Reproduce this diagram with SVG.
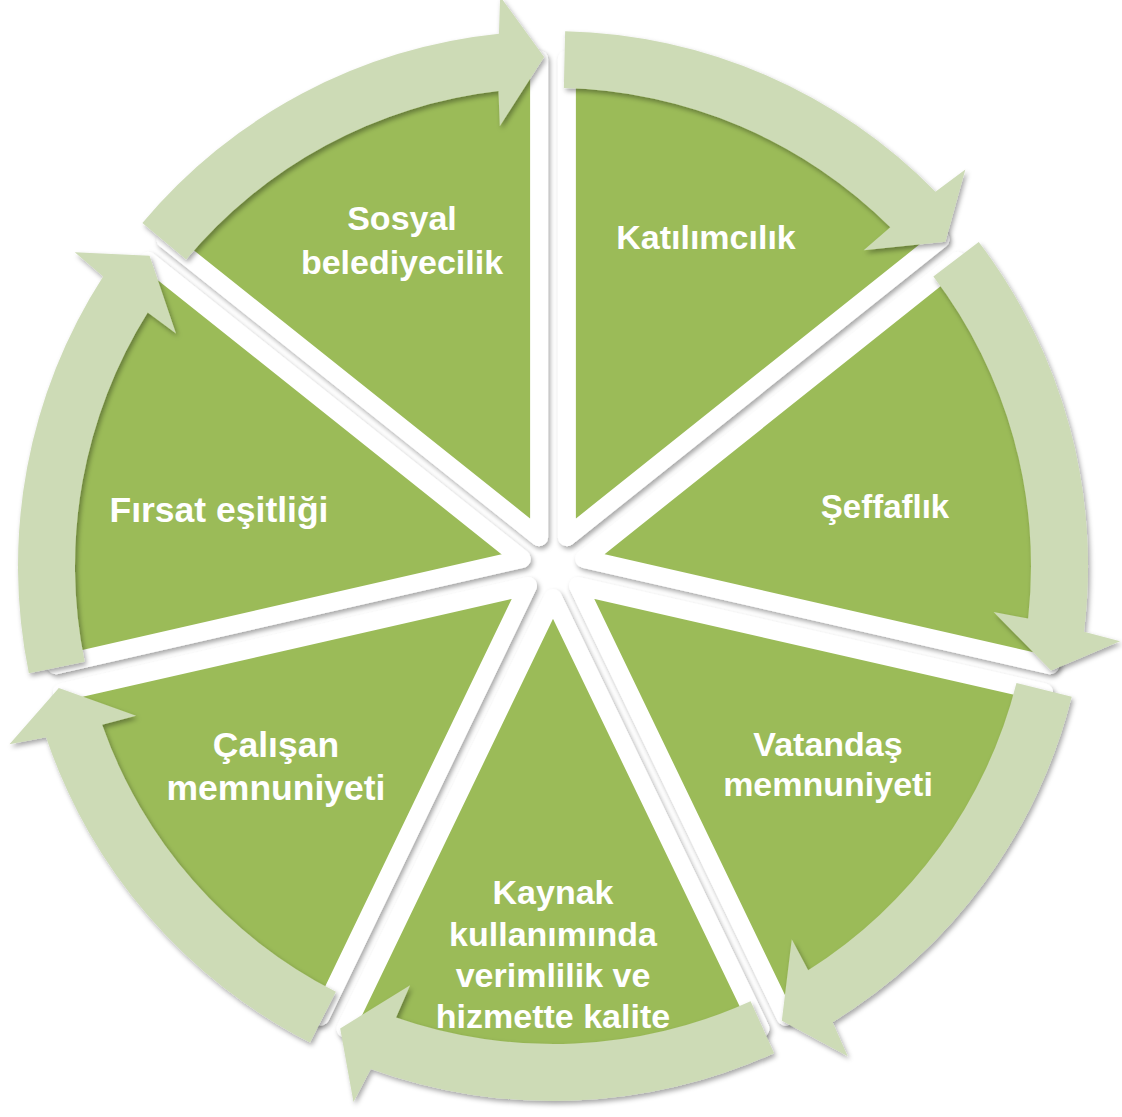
<svg xmlns="http://www.w3.org/2000/svg" xmlns:xlink="http://www.w3.org/1999/xlink" width="1122" height="1117" viewBox="0 0 1122 1117">
<style>
.wedge{fill:#9BBB59;stroke:#FFFFFF;stroke-width:18;stroke-linejoin:round}
.arrow{fill:#CDDBB6;stroke:none}
.lbl{font-family:"Liberation Sans",Arial,sans-serif;font-weight:bold;font-size:34px;fill:#FFFFFF;text-anchor:middle}
.big{font-size:35.5px}
</style>
<defs>
<filter id="sh" x="-10%" y="-10%" width="130%" height="130%">
<feDropShadow dx="2" dy="3" stdDeviation="2.5" flood-color="#000000" flood-opacity="0.35"/>
</filter>
<path id="wedge" d="M 566.88 537.17 L 566.88 59.17 A 478 478 0 0 1 940.59 239.14 Z"/>
<path id="arrow" d="M 565.14 31.14 A 535 535 0 0 1 935.46 191.85 L 965.36 169.58 L 945.36 241.74 L 863.67 250.18 L 890.29 227.29 A 478 478 0 0 0 563.84 88.12 Z"/>
</defs>
<rect width="1122" height="1117" fill="#FFFFFF"/>
<g id="node-katilimcilik">
<g filter="url(#sh)"><use href="#wedge" class="wedge"/></g>
<text class="lbl" x="706" y="249">Katılımcılık</text>
</g>
<g id="node-seffaflik">
<g filter="url(#sh)"><use href="#wedge" class="wedge" transform="rotate(51.428571 553 566)"/></g>
<text class="lbl" x="885" y="518" style="font-size:33px">Şeffaflık</text>
</g>
<g id="node-vatandas">
<g filter="url(#sh)"><use href="#wedge" class="wedge" transform="rotate(102.857143 553 566)"/></g>
<text class="lbl" x="828" y="756">Vatandaş</text>
<text class="lbl" x="828" y="796">memnuniyeti</text>
</g>
<g id="node-kaynak">
<g filter="url(#sh)"><use href="#wedge" class="wedge" transform="rotate(154.285714 553 566)"/></g>
<text class="lbl" x="553" y="904">Kaynak</text>
<text class="lbl" x="553" y="946">kullanımında</text>
<text class="lbl" x="553" y="987">verimlilik ve</text>
<text class="lbl" x="553" y="1028">hizmette kalite</text>
</g>
<g id="node-calisan">
<g filter="url(#sh)"><use href="#wedge" class="wedge" transform="rotate(205.714286 553 566)"/></g>
<text class="lbl big" x="276" y="757">Çalışan</text>
<text class="lbl big" x="276" y="800">memnuniyeti</text>
</g>
<g id="node-firsat">
<g filter="url(#sh)"><use href="#wedge" class="wedge" transform="rotate(257.142857 553 566)"/></g>
<text class="lbl big" x="219" y="522">Fırsat eşitliği</text>
</g>
<g id="node-sosyal">
<g filter="url(#sh)"><use href="#wedge" class="wedge" transform="rotate(308.571429 553 566)"/></g>
<text class="lbl" x="402" y="230">Sosyal</text>
<text class="lbl" x="402" y="274">belediyecilik</text>
</g>
<g id="connectors">
<g filter="url(#sh)"><use href="#arrow" class="arrow"/></g>
<g filter="url(#sh)"><use href="#arrow" class="arrow" transform="rotate(51.428571 553 566)"/></g>
<g filter="url(#sh)"><use href="#arrow" class="arrow" transform="rotate(102.857143 553 566)"/></g>
<g filter="url(#sh)"><use href="#arrow" class="arrow" transform="rotate(154.285714 553 566)"/></g>
<g filter="url(#sh)"><use href="#arrow" class="arrow" transform="rotate(205.714286 553 566)"/></g>
<g filter="url(#sh)"><use href="#arrow" class="arrow" transform="rotate(257.142857 553 566)"/></g>
<g filter="url(#sh)"><use href="#arrow" class="arrow" transform="rotate(308.571429 553 566)"/></g>
</g>
</svg>
